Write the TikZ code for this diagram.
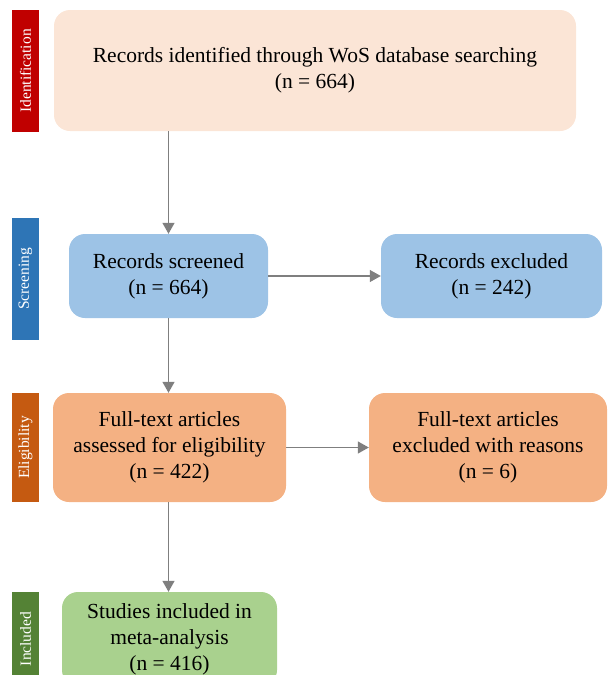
\documentclass[tikz,border=0pt]{standalone}
\usepackage{fontspec}
\setmainfont{Liberation Serif}
\usetikzlibrary{arrows.meta}

\definecolor{idred}{HTML}{C00000}
\definecolor{idfill}{HTML}{FBE5D6}
\definecolor{scrblue}{HTML}{2E75B6}
\definecolor{scrfill}{HTML}{9DC3E6}
\definecolor{eligorange}{HTML}{C55A11}
\definecolor{eligfill}{HTML}{F4B183}
\definecolor{incgreen}{HTML}{548235}
\definecolor{incfill}{HTML}{A9D18E}
\definecolor{arrowgray}{HTML}{7F7F7F}

\begin{document}
\begin{tikzpicture}[
            x=1pt, y=-1pt,
            every node/.style={font=\fontsize{21.5}{26}\selectfont},
            stage/.style={rectangle, rounded corners=16pt, align=center, inner sep=2pt},
            sidebar/.style={rectangle, rotate=90, minimum height=27pt, inner sep=0pt, text=white, font=\fontsize{15.5}{17}\selectfont},
            arrow/.style={-{Triangle[width=12pt, length=11pt]}, draw=arrowgray, fill=arrowgray, line width=1.2pt}
        ]

        \clip (0,0) rectangle (608,675);

        % Side labels
        \node[sidebar, fill=idred, minimum width=122pt] (lab_id) at (25.5,71) {Identification};
        \node[sidebar, fill=scrblue, minimum width=122pt] (lab_scr) at (25.5,279) {Screening};
        \node[sidebar, fill=eligorange, minimum width=109pt] (lab_elig) at (25.5,447.5) {Eligibility};
        \node[sidebar, fill=incgreen, minimum width=94pt] (lab_inc) at (25.5,639) {Included};

        % Boxes
        \node[stage, fill=idfill, minimum width=522pt, minimum height=121pt] (identified) at (315,70.5) {Records identified through WoS database searching\\(n = 664)};
        \node[stage, fill=scrfill, minimum width=199pt, minimum height=84pt] (screened) at (168.5,276) {Records screened\\(n = 664)};
        \node[stage, fill=scrfill, minimum width=221pt, minimum height=84pt] (excluded) at (491.5,276) {Records excluded\\(n = 242)};
        \node[stage, fill=eligfill, minimum width=233pt, minimum height=109pt] (assessed) at (169.5,447.5) {Full-text articles\\assessed for eligibility\\(n = 422)};
        \node[stage, fill=eligfill, minimum width=238pt, minimum height=109pt] (reasons) at (488,447.5) {Full-text articles\\excluded with reasons\\(n = 6)};
        \node[stage, fill=incfill, minimum width=215pt, minimum height=94pt] (included) at (169.5,639) {Studies included in\\meta-analysis\\(n = 416)};

        % Arrows
        \draw[arrow] (identified.south -| screened.north) -- (screened.north);
        \draw[arrow] (screened) -- (excluded);
        \draw[arrow] (screened.south) -- (screened.south |- assessed.north);
        \draw[arrow] (assessed) -- (reasons);
        \draw[arrow] (assessed.south -| screened.south) -- (screened.south |- included.north);

    \end{tikzpicture}
\end{document}
